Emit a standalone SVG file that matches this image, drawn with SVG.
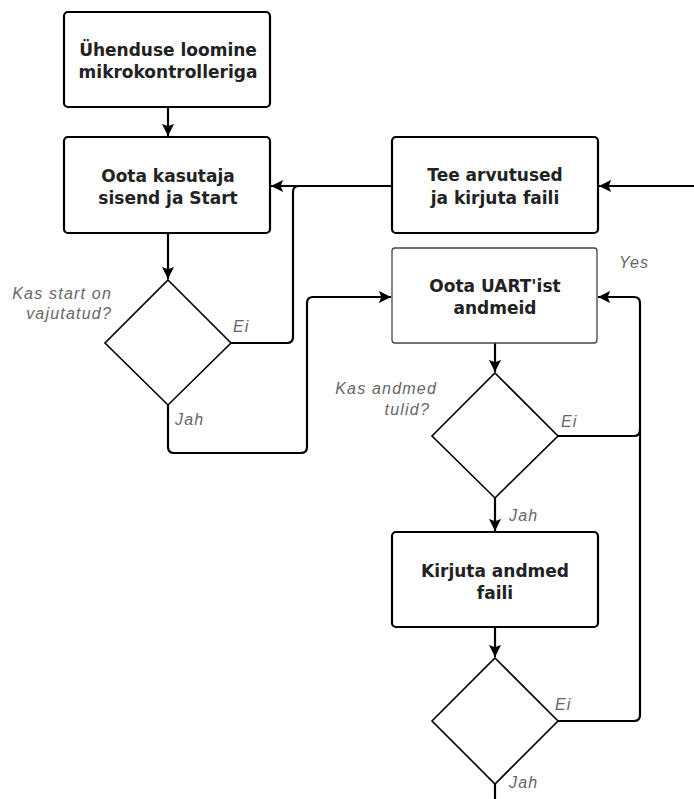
<svg xmlns="http://www.w3.org/2000/svg" width="694" height="799" viewBox="0 0 694 799">
<defs>
<marker id="arr" viewBox="0 0 10 10" refX="10" refY="5" markerWidth="5.5" markerHeight="5.5" orient="auto" markerUnits="strokeWidth">
<path d="M0,0 L10,5 L0,10 L2,5 Z" fill="#000"/>
</marker>
<style>
.box{fill:#fff;stroke:#000;stroke-width:2.2}
.box2{fill:#fff;stroke:#444;stroke-width:1.3}
.dia{fill:#fff;stroke:#000;stroke-width:1.6}
.t{font-family:"DejaVu Sans",Verdana,sans-serif;font-size:17px;font-weight:bold;fill:#222;text-anchor:middle}
.lbl{font-family:"Liberation Sans",Arial,sans-serif;font-size:16px;font-style:italic;fill:#666;letter-spacing:1.2px}
.c{fill:none;stroke:#000;stroke-width:2.2}
</style>
</defs>
<rect width="694" height="799" fill="#fff"/>
<g id="connectors">
<path class="c" d="M168,107 V136" marker-end="url(#arr)"/>
<path class="c" d="M168,233 V279" marker-end="url(#arr)"/>
<path class="c" d="M392,186 H271" marker-end="url(#arr)"/>
<path class="c" d="M694,186 H599" marker-end="url(#arr)"/>
<path class="c" d="M230,343 H287 Q293,343 293,337 V192 Q293,186 299,186"/>
<path class="c" d="M168,405 V447 Q168,453 174,453 H301 Q307,453 307,447 V303 Q307,297 313,297 H391" marker-end="url(#arr)"/>
<path class="c" d="M495,343 V372" marker-end="url(#arr)"/>
<path class="c" d="M557,436 H634 Q640,436 640,430"/>
<path class="c" d="M557,721 H634 Q640,721 640,715 V303 Q640,297 634,297 H598" marker-end="url(#arr)"/>
<path class="c" d="M495,498 V531" marker-end="url(#arr)"/>
<path class="c" d="M495,627 V657" marker-end="url(#arr)"/>
<path class="c" d="M495,784 V799"/>
</g>
<g id="n1">
<rect class="box" x="64" y="12" width="206" height="95" rx="4"/>
<text class="t" x="168" y="56">Ühenduse loomine</text>
<text class="t" x="168" y="78">mikrokontrolleriga</text>
</g>
<g id="n2">
<rect class="box" x="64" y="137" width="206" height="96" rx="4"/>
<text class="t" x="168" y="182">Oota kasutaja</text>
<text class="t" x="168" y="204">sisend ja Start</text>
</g>
<g id="n3">
<rect class="box" x="392" y="137" width="206" height="96" rx="4"/>
<text class="t" x="495" y="181">Tee arvutused</text>
<text class="t" x="495" y="204">ja kirjuta faili</text>
</g>
<g id="n4">
<rect class="box2" x="392" y="248" width="205" height="95" rx="3"/>
<text class="t" x="495" y="292">Oota UART'ist</text>
<text class="t" x="495" y="314">andmeid</text>
</g>
<g id="d1">
<polygon class="dia" points="168,280 231,343 168,405 105,343"/>
<text class="lbl" x="112" y="299" text-anchor="end">Kas start on</text>
<text class="lbl" x="112" y="319" text-anchor="end">vajutatud?</text>
<text class="lbl" x="233" y="332">Ei</text>
<text class="lbl" x="175" y="425">Jah</text>
</g>
<g id="d2">
<polygon class="dia" points="495,373 558,436 495,498 432,436"/>
<text class="lbl" x="437" y="394" text-anchor="end">Kas andmed</text>
<text class="lbl" x="430" y="415" text-anchor="end">tulid?</text>
<text class="lbl" x="561" y="427">Ei</text>
<text class="lbl" x="509" y="521">Jah</text>
</g>
<g id="n5">
<rect class="box" x="392" y="532" width="206" height="95" rx="4"/>
<text class="t" x="495" y="577">Kirjuta andmed</text>
<text class="t" x="495" y="599">faili</text>
</g>
<g id="d3">
<polygon class="dia" points="495,658 558,721 495,784 432,721"/>
<text class="lbl" x="555" y="710">Ei</text>
<text class="lbl" x="509" y="788">Jah</text>
</g>
<text class="lbl" x="619" y="268">Yes</text>
</svg>
